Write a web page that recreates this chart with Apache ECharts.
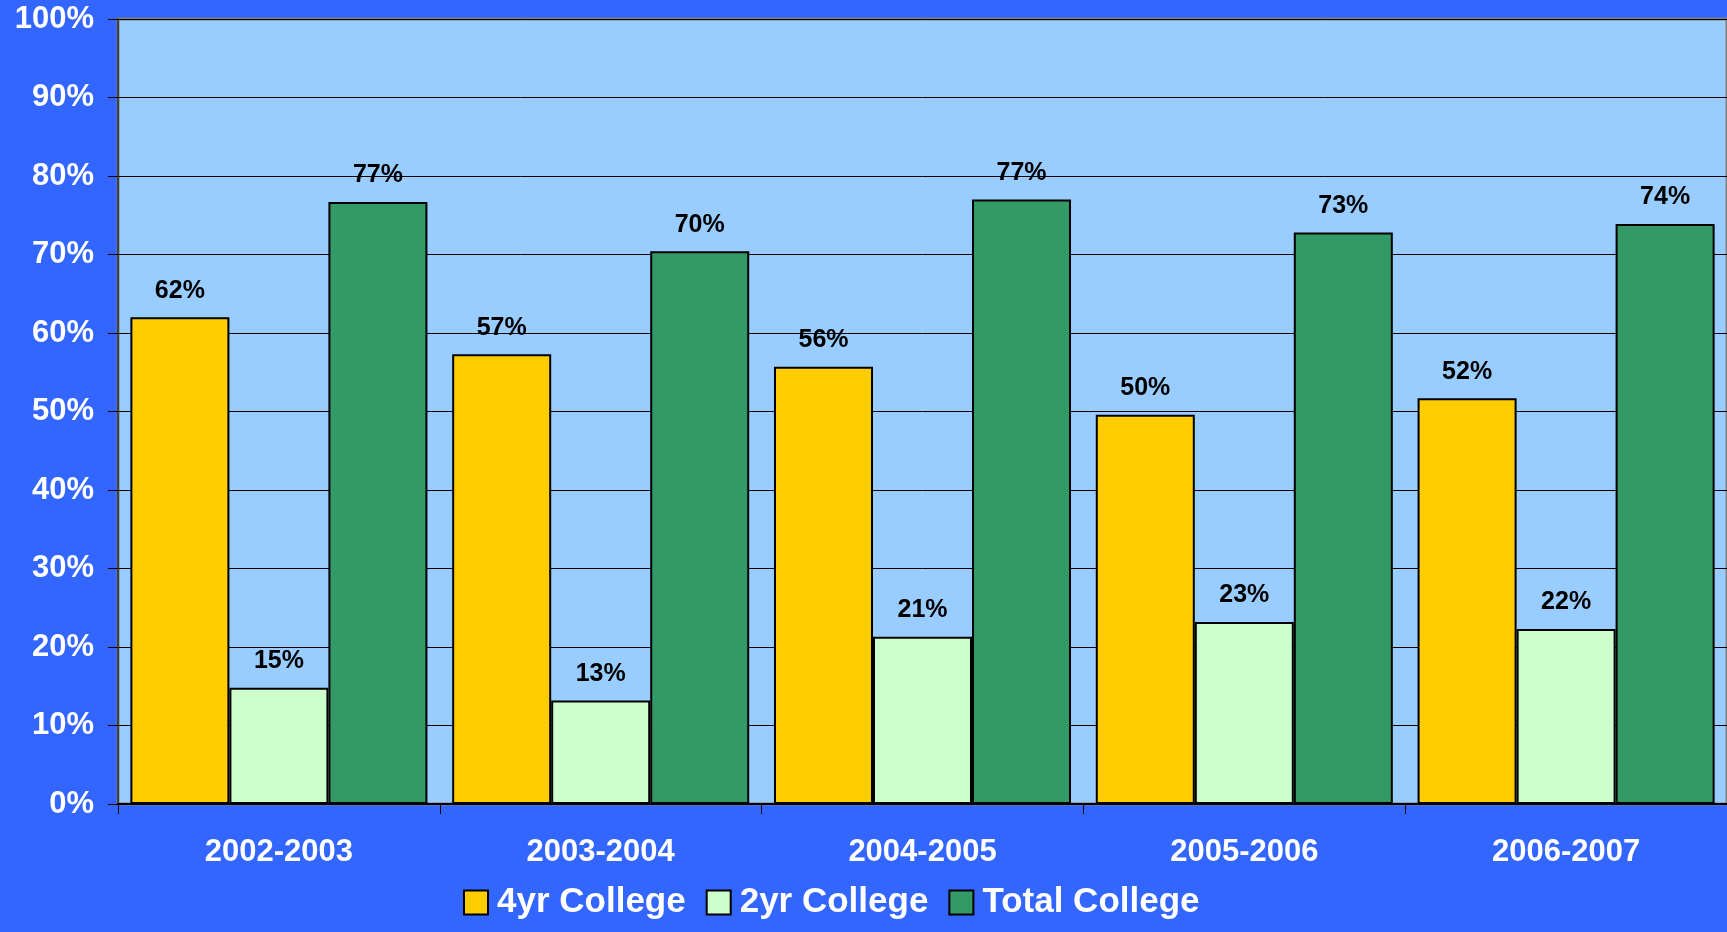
<!DOCTYPE html>
<html>
<head>
<meta charset="utf-8">
<title>College rates</title>
<script src="https://cdn.jsdelivr.net/npm/echarts@6/dist/echarts.min.js"></script>
<style>
  html, body { margin: 0; padding: 0; background: #3366ff; }
  #main { width: 1727px; height: 932px; }
</style>
</head>
<body>
<div id="main"></div>
<script>
// school years on the x axis
var years = ['2002-2003', '2003-2004', '2004-2005', '2005-2006', '2006-2007']

// shares (0..1)
var fourYear = [0.620, 0.573, 0.557, 0.496, 0.517]
var twoYear = [0.148, 0.132, 0.213, 0.232, 0.223]
var totalCollege = [0.767, 0.704, 0.770, 0.728, 0.739]

var seriesNames = ['4yr College', '2yr College', 'Total College']

var font = '"Liberation Sans", Arial, sans-serif'

var myChart = echarts.init(document.getElementById('main'))

function pct(v) {
  return Math.round(v * 100) + '%'
}

function barSeries(name, data, color) {
  return {
    name: name,
    type: 'bar',
    data: data,
    barGap: '0%',
    barCategoryGap: '7.7%',
    itemStyle: {
      color: color,
      borderColor: '#000',
      borderWidth: 2
    },
    label: {
      show: true,
      position: 'top',
      distance: 14,
      color: '#000',
      fontFamily: font,
      fontWeight: 'bold',
      fontSize: 25,
      formatter: function (p) { return pct(p.value) }
    }
  }
}

var option = {
  backgroundColor: '#3366ff',
  animation: false,
  grid: {
    left: 118,
    right: -2,
    top: 19,
    bottom: 128,
    show: true,
    backgroundColor: '#99ccff',
    borderColor: '#808080',
    borderWidth: 3
  },
  legend: {
    data: seriesNames,
    left: 458,
    top: 880,
    itemWidth: 24,
    itemHeight: 24,
    itemGap: 20,
    icon: 'rect',
    textStyle: {
      color: '#fff',
      fontFamily: font,
      fontWeight: 'bold',
      fontSize: 35,
      padding: [0, 0, 0, 4]
    }
  },
  xAxis: {
    type: 'category',
    data: years,
    axisLine: { lineStyle: { color: '#000', width: 2 } },
    axisTick: { show: true, length: 10, lineStyle: { color: '#000', width: 1 } },
    axisLabel: {
      color: '#fff',
      fontFamily: font,
      fontWeight: 'bold',
      fontSize: 31,
      margin: 33
    },
    splitLine: { show: false }
  },
  yAxis: {
    type: 'value',
    min: 0,
    max: 1,
    interval: 0.1,
    axisLine: { show: true, lineStyle: { color: '#404040', width: 2 } },
    axisTick: { show: true, length: 10, lineStyle: { color: '#000', width: 1 } },
    axisLabel: {
      color: '#fff',
      fontFamily: font,
      fontWeight: 'bold',
      fontSize: 31,
      margin: 24,
      formatter: function (v) { return pct(v) }
    },
    splitLine: { show: true, lineStyle: { color: '#000', width: 1 } }
  },
  series: [
    barSeries(seriesNames[0], fourYear, '#ffcc00'),
    barSeries(seriesNames[1], twoYear, '#ccffcc'),
    barSeries(seriesNames[2], totalCollege, '#339966')
  ]
}

myChart.setOption(option)
</script>
</body>
</html>
